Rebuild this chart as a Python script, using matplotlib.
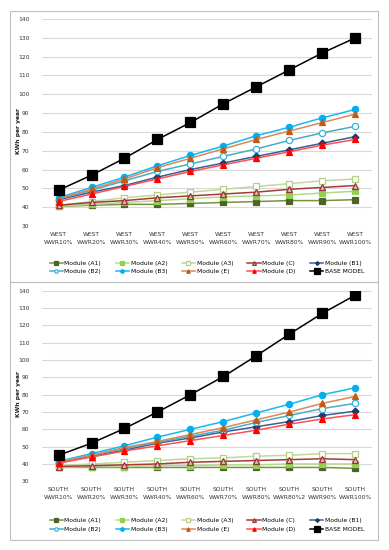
import matplotlib.pyplot as plt
from matplotlib.patches import Rectangle

# Datos
etiquetas_oeste = ["WEST\nWWR10%", "WEST\nWWR20%", "WEST\nWWR30%", "WEST\nWWR40%", "WEST\nWWR50%",
                   "WEST\nWWR60%", "WEST\nWWR70%", "WEST\nWWR80%", "WEST\nWWR90%", "WEST\nWWR100%"]
etiquetas_sur = ["SOUTH\nWWR10%", "SOUTH\nWWR20%", "SOUTH\nWWR30%", "SOUTH\nWWR40%", "SOUTH\nWWR60%",
                 "SOUTH\nWWR70%", "SOUTH\nWWR80%", "SOUTH\nWWR80%2", "SOUTH\nWWR90%", "SOUTH\nWWR100%"]

modulos = ["Module (A1)", "Module (A2)", "Module (A3)", "Module (C)", "Module (B1)",
           "Module (B2)", "Module (B3)", "Module (E)", "Module (D)", "BASE MODEL"]

oeste_a1 = [40.5, 41, 41.5, 41.5, 42, 42.5, 43, 43.5, 43.5, 44]
oeste_a2 = [40.5, 41.5, 42.5, 43.5, 44.5, 45.5, 46, 46.5, 47.5, 48.5]
oeste_a3 = [41, 43, 45, 46.5, 48, 49.5, 51, 52.5, 54, 55]
oeste_c = [41, 42.5, 43.5, 45, 46, 47, 48, 49.5, 50.5, 51.5]
oeste_b1 = [44, 48, 51.5, 56, 60, 63.5, 67, 70.5, 74, 77.5]
oeste_b2 = [44.5, 49, 54, 59, 63, 67, 71, 75.5, 79.5, 83]
oeste_b3 = [45, 50.5, 56, 62, 67.5, 72.5, 78, 82.5, 87.5, 92]
oeste_e = [44.5, 49.5, 55, 61, 66, 71, 76, 80.5, 85, 89.5]
oeste_d = [43, 47, 51, 55, 59, 62.5, 66, 69.5, 73, 76]
oeste_base = [49, 57, 66, 76, 85, 95, 104, 113, 122, 130]

sur_a1 = [38, 38, 38, 38, 38, 38, 38, 38, 38, 37.5]
sur_a2 = [38, 38.5, 38.5, 39, 39, 39.5, 39.5, 40, 40, 40]
sur_a3 = [39, 40, 41, 42, 43, 43.5, 44.5, 45, 46, 46]
sur_c = [38.5, 39, 39.5, 40, 41, 41.5, 42, 42.5, 43, 42.5]
sur_b1 = [40.5, 44.5, 48, 52, 55, 58.5, 61.5, 64.5, 68, 70.5]
sur_b2 = [41, 45, 49, 52.5, 56, 59.5, 64, 68, 72, 75]
sur_b3 = [41.5, 46, 50.5, 55.5, 60, 64.5, 69.5, 74.5, 80, 84]
sur_e = [41, 45, 49.5, 53, 57, 61, 65.5, 70, 75, 79]
sur_d = [40.5, 44, 47.5, 50.5, 53.5, 56.5, 59.5, 63, 66, 68.5]
sur_base = [45, 52, 60.5, 70, 80, 90.5, 102.5, 115, 127, 137.5]

# Estilo de cada serie: (color linea, marcador, color relleno, color borde, tamano)
estilos = [
    ("#77933c", "s", "#4f6228", "#4f6228", 5),
    ("#b3d98a", "s", "#92d050", "#92d050", 4),
    ("#c3d69b", "s", "white", "#b5cf85", 5),
    ("#a33b39", "^", "#e6b9b8", "#953735", 5),
    ("#3a5f9a", "D", "#1f3a6e", "#1f3a6e", 3.5),
    ("#4bacc6", "o", "white", "#31b5e0", 4.5),
    ("#18b8f0", "o", "#00b0f0", "#00b0f0", 4.5),
    ("#d9895a", "^", "#c55a11", "#c55a11", 4.5),
    ("#ff5050", "^", "#ff0000", "#ff0000", 4.5),
    ("#000000", "s", "#000000", "#000000", 7),
]

fig = plt.figure(figsize=(3.89, 5.5), dpi=100)

# Marcos de cada panel
for y0, y1 in [(11, 282), (282, 540)]:
    fig.patches.append(Rectangle((10 / 389, 1 - y1 / 550), 368 / 389, (y1 - y0) / 550,
                                 transform=fig.transFigure, fill=False,
                                 edgecolor="#bfbfbf", linewidth=0.8))


def dibujar(ax, etiquetas, series, pos_leyenda):
    x = list(range(len(etiquetas)))
    lineas = []
    for nombre, datos, (lc, m, fc, ec, ms) in zip(modulos, series, estilos):
        l, = ax.plot(x, datos, color=lc, linewidth=1.1, marker=m, markersize=ms,
                     markerfacecolor=fc, markeredgecolor=ec, markeredgewidth=0.9, label=nombre)
        lineas.append(l)
    ax.set_xlim(-0.5, len(etiquetas) - 0.5)
    ax.set_ylim(30, 140)
    ax.set_yticks(range(30, 141, 10))
    ax.set_xticks(x)
    ax.set_xticklabels(etiquetas, fontsize=4.3, color="#333333", linespacing=1.9)
    ax.tick_params(axis="y", labelsize=4.3, labelcolor="#333333", length=0, pad=9)
    ax.tick_params(axis="x", length=0, pad=4)
    ax.grid(axis="y", color="#d9d9d9", linewidth=0.8)
    ax.set_axisbelow(True)
    for s in ax.spines.values():
        s.set_visible(False)
    ax.set_ylabel("KWh per year", fontsize=4.3, fontweight="bold", color="#202020")
    ax.yaxis.set_label_coords(-0.065, 0.46)
    # la leyenda se llena por columnas, asi que reordenamos para leer por filas
    orden = [0, 5, 1, 6, 2, 7, 3, 8, 4, 9]
    ax.legend([lineas[i] for i in orden], [modulos[i] for i in orden],
              loc="center", bbox_to_anchor=pos_leyenda, ncol=5, fontsize=4.3,
              frameon=False, handlelength=2.2, columnspacing=2.4, handletextpad=0.3,
              labelspacing=0.55, borderaxespad=0, markerscale=0.55)


ax1 = fig.add_axes([42 / 389, 1 - 226 / 550, 330 / 389, 207 / 550])
dibujar(ax1, etiquetas_oeste,
        [oeste_a1, oeste_a2, oeste_a3, oeste_c, oeste_b1, oeste_b2, oeste_b3, oeste_e, oeste_d, oeste_base],
        (0.5, -0.2))

ax2 = fig.add_axes([42 / 389, 1 - 481.3 / 550, 330 / 389, 190.6 / 550])
dibujar(ax2, etiquetas_sur,
        [sur_a1, sur_a2, sur_a3, sur_c, sur_b1, sur_b2, sur_b3, sur_e, sur_d, sur_base],
        (0.5, -0.23))

fig.savefig("out.png", dpi=100)
